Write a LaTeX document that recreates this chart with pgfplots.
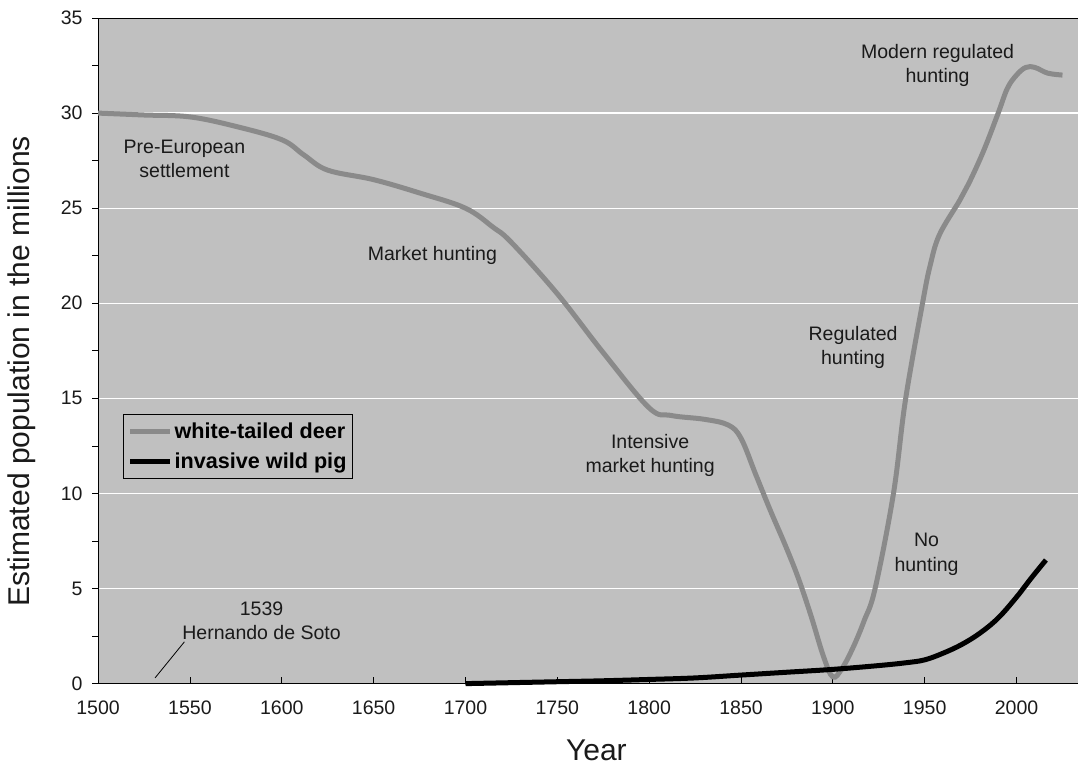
\documentclass[border=0pt]{standalone}
\usepackage{pgfplots}
\pgfplotsset{compat=1.18}
\usepackage{fontspec}
\setmainfont{Liberation Sans}
\definecolor{plotbg}{RGB}{192,192,192}
\definecolor{deer}{RGB}{138,138,138}
\definecolor{txt}{RGB}{26,26,26}
\newcommand{\anfont}{\fontsize{19.5}{24}\selectfont}
\begin{document}
\begin{tikzpicture}
\path[use as bounding box] (-98pt,-82pt) rectangle (979pt,683pt);
\begin{axis}[
    at={(0pt,0pt)}, anchor=south west,
    scale only axis, width=980pt, height=665pt,
    xmin=1500, xmax=2034, ymin=0, ymax=35,
    axis lines*=left,
    xtick={1500,1550,...,2000},
    ytick={0,5,...,35},
    minor ytick={2.5,7.5,...,32.5},
    x tick label style={/pgf/number format/1000 sep={}},
    /pgf/number format/assume math mode=true,
    tick label style={font=\fontsize{19.5}{22}\selectfont, text=txt},
    yticklabel style={xshift=-12pt},
    xticklabel style={yshift=-14pt},
    tick align=inside,
    major tick length=7pt, minor tick length=6pt,
    y tick style={xshift=-6pt},
    tick style={black, line width=0.8pt},
    axis background/.style={fill=plotbg},
    axis line style={black, line width=1pt},
    ymajorgrids, major grid style={white, line width=1.2pt},
    every axis y label/.style={at={(rel axis cs:0,0.469)}, xshift=-76pt, rotate=90, anchor=center},
    every axis x label/.style={at={(rel axis cs:0.508,0)}, yshift=-67pt, anchor=center},
    label style={font=\fontsize{30}{32}\selectfont, text=txt},
    xlabel={Year},
    ylabel={Estimated population in the millions},
    legend style={at={(rel axis cs:0.0255,0.4045)}, anchor=north west,
        fill=plotbg, draw=black, line width=1pt,
        font=\bfseries\fontsize{21.6}{24}\selectfont,
        inner xsep=4pt, inner ysep=6pt,
        row sep=9pt},
    legend cell align=left,
    legend image code/.code={\draw[#1] (0pt,0pt) -- (40pt,0pt);},
    clip=false,
]
\addplot[deer, line width=5pt, smooth, tension=0.6] coordinates {
(1500,30.0) (1525,29.9) (1550,29.8) (1575,29.3) (1600,28.6) (1612,27.8)
(1625,27.0) (1650,26.5) (1675,25.8) (1700,25.0) (1715,24.0) (1725,23.2)
(1750,20.5) (1775,17.4) (1800,14.5) (1812,14.1) (1830,13.9) (1843,13.6)
(1850,12.9) (1858,11.0) (1866,9.1) (1874,7.3) (1881,5.6) (1888,3.6) (1895,1.4) (1900,0.35)
(1905,0.8) (1911,1.9) (1917,3.3) (1923,5.0) (1933,10.0) (1939.5,14.9) (1949,20.1)
(1953,22.0) (1958,23.6) (1969,25.4) (1974,26.3) (1982,28.0) (1990,30.0)
(1995,31.3) (2000,32.0) (2005,32.4) (2010,32.4) (2017,32.1) (2025,32.0)
};
\addlegendentry{white-tailed deer}
\addplot[black, line width=5pt, smooth, tension=0.6] coordinates {
(1700,0) (1725,0.05) (1750,0.1) (1775,0.15) (1800,0.22) (1825,0.3)
(1850,0.45) (1875,0.6) (1900,0.75) (1925,0.95) (1940,1.1) (1950,1.25)
(1960,1.6) (1970,2.05) (1980,2.65) (1990,3.45) (2000,4.55) (2008,5.55) (2016,6.5)
};
\addlegendentry{invasive wild pig}
\begin{scope}[every node/.style={font=\anfont, text=txt, align=center}]
\node at (axis cs:1547,27.6) {Pre-European\\settlement};
\node at (axis cs:1682,22.5) {Market hunting};
\node at (axis cs:1800.5,12.0) {Intensive\\market hunting};
\node at (axis cs:1911,17.7) {Regulated\\hunting};
\node at (axis cs:1951,6.8) {No\\hunting};
\node at (axis cs:1957,32.5) {Modern regulated\\hunting};
\node at (axis cs:1589,3.3) {1539\\Hernando de Soto};
\end{scope}
\draw[black, line width=0.8pt] (axis cs:1531,0.3) -- (axis cs:1547,2.2);
\draw[black, line width=1pt] (rel axis cs:0,1) -- (rel axis cs:1,1);
\end{axis}
\end{tikzpicture}
\end{document}
